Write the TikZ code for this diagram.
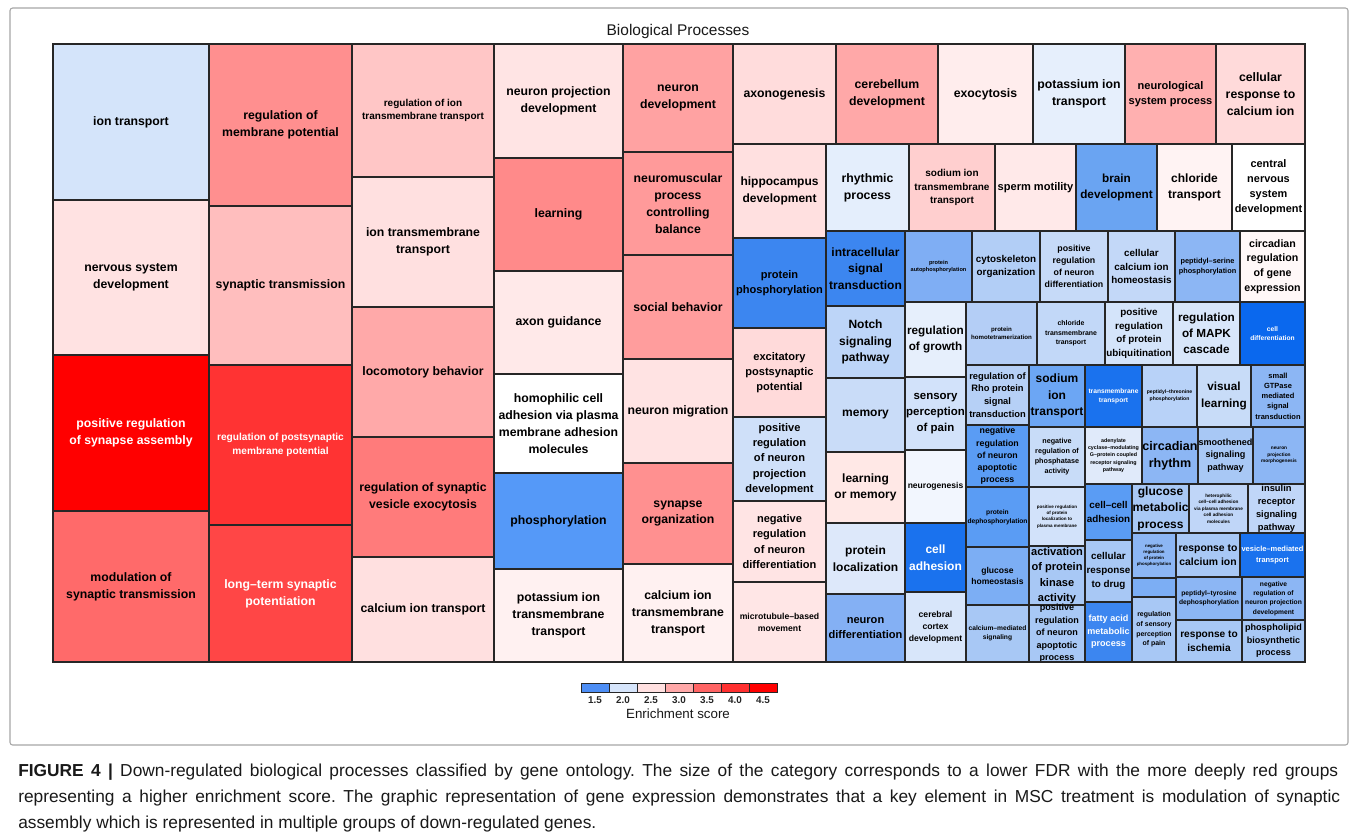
\documentclass[tikz,border=0pt]{standalone}
\usepackage{fontspec}
\setmainfont{Liberation Sans}
\usepackage{tikz}
\frenchspacing
\newcommand{\tmfont}[1]{\pgfmathsetmacro\tmbs{#1*1.38}\fontsize{#1pt}{\tmbs pt}\selectfont\bfseries}
\tikzset{
  tmcell/.style={draw=black!85, line width=0.8pt},
  tmlabel/.style={align=center, inner sep=0pt},
  legseg/.style={draw=black!85, line width=0.7pt, minimum width=21pt, minimum height=6.75pt, inner sep=0pt},
  leglab/.style={font=\bfseries\fontsize{7.4pt}{9pt}\selectfont, text=black!85, inner sep=0pt},
  capline/.style={anchor=base west, inner sep=0pt, text=black!90, font=\fontsize{13pt}{19.5pt}\selectfont\frenchspacing}
}
\newcommand{\tmbox}[9]{%
  \definecolor{c#1}{HTML}{#6}%
  \path[tmcell, fill=c#1] (#2,#3) rectangle (#4,#5);%
  \node[tmlabel, text=#8, font=\tmfont{#7}] (#1) at ({(#2+#4)/2},{(#3+#5)/2}) {#9};%
}
\begin{document}
\begin{tikzpicture}[x=0.75pt,y=-0.75pt]
\useasboundingbox (0,0) rectangle (1357,833);
\fill[white] (0,0) rectangle (1357,833);
\draw[black!35, line width=0.8pt, rounded corners=2pt] (10,8) rectangle (1348,745);
\node[font=\fontsize{11.6pt}{14pt}\selectfont, text=black!90] (title) at (678,31) {Biological Processes};
% column 1
\tmbox{iont}{53}{44}{209}{200}{D4E4FA}{9.2}{black}{ion transport}
\tmbox{nsd}{53}{200}{209}{355}{FFE2E2}{9.2}{black}{nervous system\\development}
\tmbox{prsa}{53}{355}{209}{511}{FF0000}{9.2}{white}{positive regulation\\of synapse assembly}
\tmbox{mst}{53}{511}{209}{662}{FF6A6A}{9.2}{black}{modulation of\\synaptic transmission}
% column 2
\tmbox{rmp}{209}{44}{352}{206}{FF8F8F}{9.2}{black}{regulation of\\membrane potential}
\tmbox{syt}{209}{206}{352}{365}{FFBEBE}{9.2}{black}{synaptic transmission}
\tmbox{rpmp}{209}{365}{352}{525}{FF3333}{7.6}{white}{regulation of postsynaptic\\membrane potential}
\tmbox{ltsp}{209}{525}{352}{662}{FF4646}{9.2}{white}{long–term synaptic\\potentiation}
% column 3
\tmbox{rit}{352}{44}{494}{177}{FFC6C6}{7.5}{black}{regulation of ion\\transmembrane transport}
\tmbox{itt}{352}{177}{494}{307}{FFE0E0}{9.2}{black}{ion transmembrane\\transport}
\tmbox{lb}{352}{307}{494}{437}{FFA9A9}{9.2}{black}{locomotory behavior}
\tmbox{rsve}{352}{437}{494}{557}{FF7B7B}{9.2}{black}{regulation of synaptic\\vesicle exocytosis}
\tmbox{cit}{352}{557}{494}{662}{FFE0E0}{9.2}{black}{calcium ion transport}
% column 4
\tmbox{npd}{494}{44}{623}{158}{FFE4E4}{9.2}{black}{neuron projection\\development}
\tmbox{lrn}{494}{158}{623}{271}{FF8A8A}{9.2}{black}{learning}
\tmbox{axg}{494}{271}{623}{374}{FFE9E9}{9.2}{black}{axon guidance}
\tmbox{hca}{494}{374}{623}{473}{FFFFFF}{9.2}{black}{homophilic cell\\adhesion via plasma\\membrane adhesion\\molecules}
\tmbox{phos}{494}{473}{623}{569}{5599F8}{9.2}{black}{phosphorylation}
\tmbox{kitt}{494}{569}{623}{662}{FFF1F1}{9.2}{black}{potassium ion\\transmembrane\\transport}
% column 5
\tmbox{nd}{623}{44}{733}{152}{FFA2A2}{9.2}{black}{neuron\\development}
\tmbox{npcb}{623}{152}{733}{255}{FF9A9A}{9.2}{black}{neuromuscular\\process\\controlling\\balance}
\tmbox{sb}{623}{255}{733}{359}{FF9D9D}{9.2}{black}{social behavior}
\tmbox{nm}{623}{359}{733}{463}{FFE3E3}{9.2}{black}{neuron migration}
\tmbox{so}{623}{463}{733}{564}{FF9090}{9.2}{black}{synapse\\organization}
\tmbox{citt}{623}{564}{733}{662}{FFF1F1}{9.2}{black}{calcium ion\\transmembrane\\transport}
% top row right
\tmbox{axo}{733}{44}{836}{144}{FFDCDC}{9.2}{black}{axonogenesis}
\tmbox{cbd}{836}{44}{938}{144}{FFA8A8}{9.2}{black}{cerebellum\\development}
\tmbox{exo}{938}{44}{1033}{144}{FFEDED}{9.2}{black}{exocytosis}
\tmbox{kit}{1033}{44}{1125}{144}{E6EFFC}{9.2}{black}{potassium ion\\transport}
\tmbox{nsp}{1125}{44}{1216}{144}{FFB0B0}{8.3}{black}{neurological\\system process}
\tmbox{crci}{1216}{44}{1305}{144}{FFDADA}{9.2}{black}{cellular\\response to\\calcium ion}
% second row right
\tmbox{hpd}{733}{144}{826}{238}{FFE0E0}{9.0}{black}{hippocampus\\development}
\tmbox{rhp}{826}{144}{909}{231}{E4EEFC}{9.2}{black}{rhythmic\\process}
\tmbox{nat}{909}{144}{995}{231}{FFCFCF}{7.5}{black}{sodium ion\\transmembrane\\transport}
\tmbox{spm}{995}{144}{1076}{231}{FFE9E9}{8.3}{black}{sperm motility}
\tmbox{brd}{1076}{144}{1157}{231}{6AA4F2}{8.8}{black}{brain\\development}
\tmbox{clt}{1157}{144}{1232}{231}{FFF3F3}{9.0}{black}{chloride\\transport}
\tmbox{cnsd}{1232}{144}{1305}{231}{FFFFFF}{8.2}{black}{central\\nervous\\system\\development}
% column 733-826
\tmbox{pph}{733}{238}{826}{328}{3C86F0}{8.3}{black}{protein\\phosphorylation}
\tmbox{epp}{733}{328}{826}{417}{FFDADA}{8.3}{black}{excitatory\\postsynaptic\\potential}
\tmbox{prnpd}{733}{417}{826}{501}{CFE0F9}{8.3}{black}{positive\\regulation\\of neuron\\projection\\development}
\tmbox{nrnd}{733}{501}{826}{582}{FFE4E4}{8.3}{black}{negative\\regulation\\of neuron\\differentiation}
\tmbox{mtbm}{733}{582}{826}{662}{FFE6E6}{6.5}{black}{microtubule–based\\movement}
% column 826-905
\tmbox{ist}{826}{231}{905}{306}{3C86F0}{9.0}{black}{intracellular\\signal\\transduction}
\tmbox{nsig}{826}{306}{905}{378}{BDD5F8}{9.0}{black}{Notch\\signaling\\pathway}
\tmbox{mem}{826}{378}{905}{452}{C9DCF8}{9.0}{black}{memory}
\tmbox{lom}{826}{452}{905}{523}{FFE8E6}{9.0}{black}{learning\\or memory}
\tmbox{ploc}{826}{523}{905}{594}{DDE8FA}{9.0}{black}{protein\\localization}
\tmbox{ndif}{826}{594}{905}{662}{84B0F4}{8.3}{black}{neuron\\differentiation}
% column 905-966
\tmbox{pap}{905}{231}{972}{302}{7FAEF4}{4.2}{black}{protein\\autophosphorylation}
\tmbox{rgr}{905}{302}{966}{377}{E6EFFC}{8.8}{black}{regulation\\of growth}
\tmbox{spp}{905}{377}{966}{450}{D2E2FA}{8.6}{black}{sensory\\perception\\of pain}
\tmbox{ngn}{905}{450}{966}{523}{F2F6FE}{6.4}{black}{neurogenesis}
\tmbox{cad}{905}{523}{966}{592}{1A72EE}{9.0}{white}{cell\\adhesion}
\tmbox{ccd}{905}{592}{966}{662}{D8E6FA}{6.5}{black}{cerebral\\cortex\\development}
% row A
\tmbox{cyto}{972}{231}{1040}{302}{B2CEF6}{7.4}{black}{cytoskeleton\\organization}
\tmbox{prndi}{1040}{231}{1108}{302}{C6DAF8}{6.6}{black}{positive\\regulation\\of neuron\\differentiation}
\tmbox{ccih}{1108}{231}{1175}{302}{C3D8F8}{7.4}{black}{cellular\\calcium ion\\homeostasis}
\tmbox{psp}{1175}{231}{1240}{302}{8CB6F4}{5.5}{black}{peptidyl–serine\\phosphorylation}
\tmbox{crge}{1240}{231}{1305}{302}{FFF8F8}{8.0}{black}{circadian\\regulation\\of gene\\expression}
% row B
\tmbox{pht}{966}{302}{1037}{365}{B4CEF6}{4.6}{black}{protein\\homotetramerization}
\tmbox{cltt}{1037}{302}{1105}{365}{C2D8F8}{5.2}{black}{chloride\\transmembrane\\transport}
\tmbox{prpu}{1105}{302}{1173}{365}{D4E4FA}{7.4}{black}{positive\\regulation\\of protein\\ubiquitination}
\tmbox{rmapk}{1173}{302}{1240}{365}{D8E6FA}{8.8}{black}{regulation\\of MAPK\\cascade}
\tmbox{cdif}{1240}{302}{1305}{365}{0A68EE}{5.0}{white}{cell\\differentiation}
% row C
\tmbox{rrho}{966}{365}{1029}{425}{B6D0F6}{7.0}{black}{regulation of\\Rho protein\\signal\\transduction}
\tmbox{nait}{1029}{365}{1085}{427}{6CA6F4}{9.0}{black}{sodium\\ion\\transport}
\tmbox{tmt}{1085}{365}{1142}{427}{1A72EE}{5.0}{white}{transmembrane\\transport}
\tmbox{ptp}{1142}{365}{1197}{427}{B8D2F8}{3.8}{black}{peptidyl–threonine\\phosphorylation}
\tmbox{vl}{1197}{365}{1251}{427}{C8DCF8}{8.8}{black}{visual\\learning}
\tmbox{sgtp}{1251}{365}{1305}{427}{8CB6F4}{5.6}{black}{small\\GTPase\\mediated\\signal\\transduction}
% row D
\tmbox{nrnap}{966}{425}{1029}{487}{5A9CF4}{6.6}{black}{negative\\regulation\\of neuron\\apoptotic\\process}
\tmbox{nrpa}{1029}{427}{1085}{487}{C8DCF8}{5.4}{black}{negative\\regulation of\\phosphatase\\activity}
\tmbox{acm}{1085}{427}{1142}{484}{E0EAFA}{4.0}{black}{adenylate\\cyclase–modulating\\G–protein coupled\\receptor signaling\\pathway}
\tmbox{crh}{1142}{427}{1198}{484}{8CB6F4}{9.4}{black}{circadian\\rhythm}
\tmbox{ssp}{1198}{427}{1253}{484}{A8C8F5}{6.8}{black}{smoothened\\signaling\\pathway}
\tmbox{npm}{1253}{427}{1305}{484}{8CB6F4}{3.6}{black}{neuron\\projection\\morphogenesis}
% row E
\tmbox{pdp}{966}{487}{1029}{547}{5A9CF4}{5.0}{black}{protein\\dephosphorylation}
\tmbox{prplpm}{1029}{487}{1085}{546}{D2E2FA}{3.4}{black}{positive regulation\\of protein\\localization to\\plasma membrane}
\tmbox{cca}{1085}{484}{1132}{540}{5A9CF4}{7.4}{black}{cell–cell\\adhesion}
\tmbox{gmp}{1132}{484}{1189}{533}{A8C8F5}{9.0}{black}{glucose\\metabolic\\process}
\tmbox{hcca}{1189}{484}{1248}{533}{C0D6F8}{3.5}{black}{heterophilic\\cell–cell adhesion\\via plasma membrane\\cell adhesion\\molecules}
\tmbox{irsp}{1248}{484}{1305}{533}{C0D6F8}{7.0}{black}{insulin\\receptor\\signaling\\pathway}
% row F
\tmbox{gh}{966}{547}{1029}{605}{7CAEF4}{6.4}{black}{glucose\\homeostasis}
\tmbox{apka}{1029}{546}{1085}{605}{A8C8F5}{8.3}{black}{activation\\of protein\\kinase\\activity}
\tmbox{cms}{966}{605}{1029}{662}{A8C8F5}{5.0}{black}{calcium–mediated\\signaling}
\tmbox{prnap}{1029}{605}{1085}{662}{A8C8F5}{6.8}{black}{positive\\regulation\\of neuron\\apoptotic\\process}
\tmbox{crd}{1085}{540}{1132}{602}{A8C8F5}{7.4}{black}{cellular\\response\\to drug}
\tmbox{famp}{1085}{602}{1132}{662}{3C86F0}{6.8}{white}{fatty acid\\metabolic\\process}
\tmbox{nrpp}{1132}{533}{1176}{578}{8CB6F4}{3.3}{black}{negative\\regulation\\of protein\\phosphorylation}
\tmbox{empt}{1132}{578}{1176}{597}{7CAEF4}{5}{black}{}
\tmbox{rspp}{1132}{597}{1176}{662}{A8C8F5}{5.2}{black}{regulation\\of sensory\\perception\\of pain}
\tmbox{rci}{1176}{533}{1240}{577}{A8C8F5}{7.8}{black}{response to\\calcium ion}
\tmbox{vmt}{1240}{533}{1305}{577}{1A72EE}{5.6}{white}{vesicle–mediated\\transport}
\tmbox{ptd}{1176}{577}{1242}{620}{8CB6F4}{5.0}{black}{peptidyl–tyrosine\\dephosphorylation}
\tmbox{nrnpd}{1242}{577}{1305}{620}{8CB6F4}{5.0}{black}{negative\\regulation of\\neuron projection\\development}
\tmbox{rti}{1176}{620}{1242}{662}{A8C8F5}{7.6}{black}{response to\\ischemia}
\tmbox{pbp}{1242}{620}{1305}{662}{A8C8F5}{6.8}{black}{phospholipid\\biosynthetic\\process}
% frame of treemap
\draw[black!85, line width=1pt] (53,44) rectangle (1305,662);
% legend
\definecolor{lg1}{HTML}{4D8EF5}\definecolor{lg2}{HTML}{D6E5FB}\definecolor{lg3}{HTML}{FFE0E0}
\definecolor{lg4}{HTML}{FFA8A8}\definecolor{lg5}{HTML}{FF6464}\definecolor{lg6}{HTML}{FF3030}
\definecolor{lg7}{HTML}{FF0000}
\node[legseg, fill=lg1] (l1) at (595,687.5) {};
\node[legseg, fill=lg2] (l2) at (623,687.5) {};
\node[legseg, fill=lg3] (l3) at (651,687.5) {};
\node[legseg, fill=lg4] (l4) at (679,687.5) {};
\node[legseg, fill=lg5] (l5) at (707,687.5) {};
\node[legseg, fill=lg6] (l6) at (735,687.5) {};
\node[legseg, fill=lg7] (l7) at (763,687.5) {};
\node[leglab] (t1) at (595,700) {1.5};
\node[leglab] (t2) at (623,700) {2.0};
\node[leglab] (t3) at (651,700) {2.5};
\node[leglab] (t4) at (679,700) {3.0};
\node[leglab] (t5) at (707,700) {3.5};
\node[leglab] (t6) at (735,700) {4.0};
\node[leglab] (t7) at (763,700) {4.5};
\node[font=\fontsize{10pt}{12pt}\selectfont, text=black!90, inner sep=0pt] (legt) at (678,714) {Enrichment score};
% caption
\node[capline] (cap1) at (18,776)
  {\makebox[990pt][s]{\textbf{FIGURE 4 |} Down-regulated biological processes classified by gene ontology. The size of the category corresponds to a lower FDR with the more deeply red groups}};
\node[capline] (cap2) at (18,802)
  {\makebox[991.5pt][s]{representing a higher enrichment score. The graphic representation of gene expression demonstrates that a key element in MSC treatment is modulation of synaptic}};
\node[capline] (cap3) at (18,828)
  {assembly which is represented in multiple groups of down-regulated genes.};
\end{tikzpicture}
\end{document}
